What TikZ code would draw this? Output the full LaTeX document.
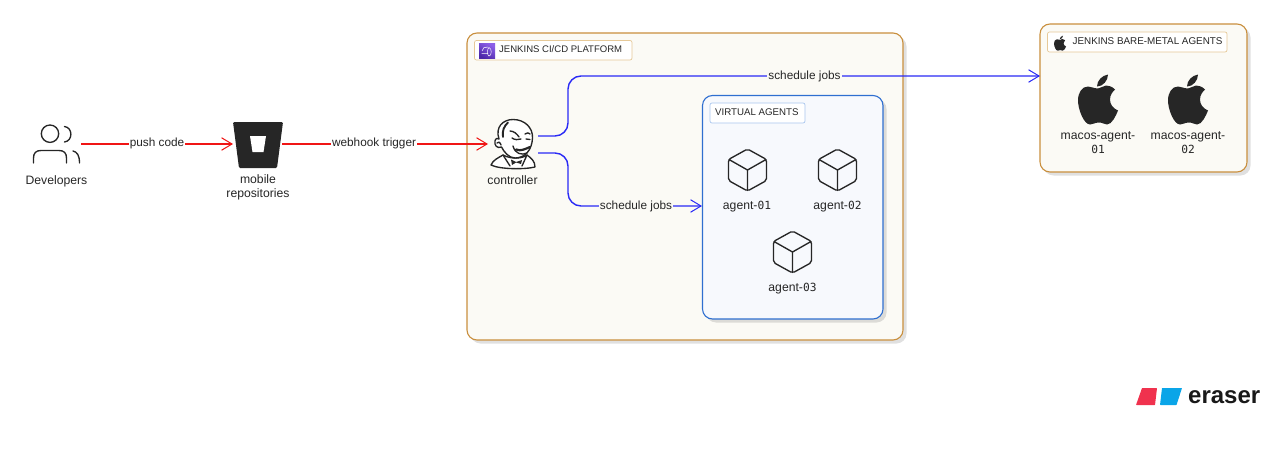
\documentclass[tikz,border=0pt]{standalone}
\usepackage{fontspec}
\setmainfont{Liberation Sans}
\newfontfamily\zerofont{DejaVu Sans Mono}[Scale=0.92]
\usetikzlibrary{arrows.meta,shadows}
\definecolor{tan}{HTML}{C98F3E}
\definecolor{tanlight}{HTML}{E6C998}
\definecolor{cream}{HTML}{FBFAF5}
\definecolor{bluebox}{HTML}{2F6FD0}
\definecolor{bluelight}{HTML}{A9C6EE}
\definecolor{bluefill}{HTML}{F7F9FD}
\definecolor{ink}{HTML}{262626}
\definecolor{flowblue}{HTML}{2A2AF5}
\definecolor{flowred}{HTML}{F01515}
\definecolor{purpledark}{HTML}{4D27A8}
\definecolor{purplelight}{HTML}{8C5FE8}
\definecolor{eraserred}{HTML}{F0324E}
\definecolor{eraserblue}{HTML}{0AA5E8}
\newcommand{\dz}[1]{{\zerofont #1}}
\tikzset{
  x=1pt,y=-1pt,
  groupbox/.style={rounded corners=10pt,line width=1.1pt,
    drop shadow={shadow xshift=3.5pt,shadow yshift=-3.5pt,fill=black,opacity=.12}},
  platform/.style={groupbox,draw=tan,fill=cream},
  virtualbox/.style={groupbox,draw=bluebox,fill=bluefill},
  tagbox/.style={draw=tanlight,fill=white,rounded corners=2pt,line width=.7pt},
  tagblue/.style={draw=bluelight,fill=white,rounded corners=2pt,line width=.7pt},
  tagtext/.style={font=\fontsize{9.7}{11}\selectfont,text=ink,inner sep=0pt,anchor=west},
  caption/.style={font=\fontsize{12.2}{14.5}\selectfont,text=ink,inner sep=0pt,align=center},
  anchorbox/.style={inner sep=0pt,minimum width=#1,minimum height=#1},
  flowr/.style={draw=flowred,line width=1.1pt,-{Straight Barb[length=10.5pt,width=12.5pt,line width=1pt]}},
  flowb/.style={draw=flowblue,line width=1.4pt,rounded corners=13pt,-{Straight Barb[length=10.5pt,width=12.5pt,line width=1pt]}},
  flowlabel/.style={font=\fontsize{11.8}{14}\selectfont,text=ink,fill=white,inner sep=1pt},
  flowlabelc/.style={flowlabel,fill=cream},
  iconline/.style={draw=ink,line width=1.35pt,line join=round,line cap=round},
}
\newcommand{\applelogo}[3]{%
\begin{scope}[shift={(#1,#2)},scale=#3]
\fill[ink] (0,-11) .. controls (-4,-11) and (-7,-13) .. (-10,-13)
 .. controls (-16,-13) and (-20,-7) .. (-20,1)
 .. controls (-20,10) and (-14,25) .. (-8,25)
 .. controls (-5,25) and (-3,23) .. (1,23)
 .. controls (5,23) and (6,25) .. (9,25)
 .. controls (14,25) and (18,16) .. (20,11)
 .. controls (15,9) and (12,5) .. (12,0)
 .. controls (12,-5) and (15,-8) .. (17,-10)
 .. controls (14,-13) and (11,-14) .. (8,-14)
 .. controls (5,-14) and (3,-11) .. (0,-11) -- cycle;
\fill[ink] (-1,-13) .. controls (-1,-19) and (4,-24) .. (10,-25)
 .. controls (10,-19) and (5,-13) .. (-1,-13) -- cycle;
\end{scope}}
\newcommand{\cubeicon}[2]{%
\begin{scope}[shift={(#1,#2)}]
\draw[iconline,rounded corners=2pt] (0,-21) -- (19,-10.5) -- (19,10.5) -- (0,21) -- (-19,10.5) -- (-19,-10.5) -- cycle;
\draw[iconline] (-18.5,-10.5) -- (0,0) -- (18.5,-10.5) (0,0) -- (0,20.5);
\end{scope}}
\begin{document}
\begin{tikzpicture}
\useasboundingbox (0,0) rectangle (1271,460);
% containers
\path[platform] (467,33) rectangle (903,340);
\path[virtualbox] (702.5,95.5) rectangle (883,319);
\path[platform] (1040,24) rectangle (1247,172);
% tags
\path[tagbox] (474.5,40.5) rectangle (632,60);
\shade[bottom color=purpledark,top color=purplelight,shading angle=-30] (479,43.5) rectangle (495,58.5);
\draw[white,line width=.5pt] (482,51) .. controls (482,48) and (485,46.5) .. (488,47) (481.5,53.5) -- (488,53.5) (489,47.5) .. controls (492,48) and (492,56) .. (489,56) .. controls (487,56) and (487,48) .. (489,47.5);
\node[tagtext,font=\fontsize{9.55}{11}\selectfont] (platformtag) at (499,49.5) {JENKINS CI/CD PLATFORM};
\path[tagblue] (710,103) rectangle (805,123);
\node[tagtext] (virtualtag) at (715,112.5) {VIRTUAL AGENTS};
\path[tagbox] (1047.5,32) rectangle (1227,52);
\applelogo{1060}{43.2}{.3}
\node[tagtext,font=\fontsize{9.85}{11}\selectfont] (baretag) at (1072.5,41.5) {JENKINS BARE-METAL AGENTS};
% developers icon
\node[anchorbox=40pt] (dev) at (56,144) {};
\draw[iconline] (50,133.7) circle (8.7);
\draw[iconline] (64.5,126.5) .. controls (73,127.5) and (73,141) .. (64.5,142);
\draw[iconline] (33.5,163) -- (33.5,158) .. controls (33.5,153) and (36,150.5) .. (41,150.5) -- (59,150.5) .. controls (64,150.5) and (66.5,153) .. (66.5,158) -- (66.5,163);
\draw[iconline] (73,151) .. controls (77,152) and (79.5,155) .. (79.5,163);
\node[caption] (devtxt) at (56.5,181) {Developers};
% bitbucket
\node[anchorbox=46pt] (repo) at (258,145) {};
\fill[ink,rounded corners=1.2pt] (233,122) -- (283,122) -- (277,168) -- (239,168) -- cycle;
\fill[white] (250,136) -- (266,136) -- (263.5,152) -- (252.5,152) -- cycle;
\node[caption] (repotxt) at (258,187.5) {mobile\\repositories};
% jenkins
\node[anchorbox=46pt] (ctrl) at (512,144) {};
\begin{scope}[line width=1.35pt,line join=round,line cap=round]
\filldraw[draw=ink,fill=white] (491,165) .. controls (493,160) and (498,158) .. (503,155) .. controls (512,160) and (524,158) .. (527,155) .. controls (531,158) and (535,161) .. (535,167) .. controls (525,169.5) and (500,169.5) .. (491,165) -- cycle;
\filldraw[draw=ink,fill=white] (499,139) .. controls (495,127) and (503,119.5) .. (513,119.5) .. controls (525,119.5) and (533,128) .. (532.5,138) .. controls (532,150) and (525,158) .. (515,158) .. controls (509,158) and (504,152) .. (501.5,147) .. controls (497,149) and (494,145) .. (495,141) .. controls (495.5,138) and (498,138) .. (499,139) -- cycle;
\draw[ink,line width=1.9pt] (503,137) .. controls (502,131) and (504,126) .. (508,122.5);
\draw[ink] (510,131) .. controls (514,131) and (517,134) .. (519,137);
\draw[ink] (525,134) .. controls (527,132.5) and (529,132.5) .. (530,134);
\draw[ink] (512,138) .. controls (515,140) and (518,140) .. (521,139);
\draw[ink] (526,139) -- (530,139.5);
\draw[ink,line width=2.2pt] (516,149.5) .. controls (521,151.5) and (525,149) .. (530,147);
\draw[ink] (513,146) .. controls (515,154) and (522,155.5) .. (527,153);
\draw[ink] (497,143) .. controls (498,141) and (500,142) .. (501,145);
\draw[ink] (503,155) -- (510,166) (527,155) -- (522,166);
\fill[ink] (511,159.5) -- (516,162) -- (522,160) -- (521,164) -- (516,162.5) -- (512,165) -- cycle;
\end{scope}
\node[caption] (ctrltxt) at (512.5,180.5) {controller};
% cubes
\node[anchorbox=42pt] (a1) at (747,170) {};
\node[anchorbox=42pt] (a2) at (837.5,170) {};
\node[anchorbox=42pt] (a3) at (792.5,252) {};
\cubeicon{747.5}{170}
\cubeicon{837.5}{170}
\cubeicon{792.5}{252}
\node[caption] (a1t) at (747,207) {agent-\dz{01}};
\node[caption] (a2t) at (837.5,207) {agent-\dz{02}};
\node[caption] (a3t) at (792.5,289) {agent-\dz{03}};
% mac
\node[anchorbox=46pt] (m1) at (1098,99) {};
\node[anchorbox=46pt] (m2) at (1188,99) {};
\applelogo{1098}{99.5}{1}
\applelogo{1188}{99.5}{1}
\node[caption] (m1t) at (1098,142.5) {macos-agent-\\\dz{01}};
\node[caption] (m2t) at (1188,142.5) {macos-agent-\\\dz{02}};
% connectors
\coordinate (devout) at (81,144);
\coordinate (repoin) at (233,144);
\coordinate (repoout) at (282,144);
\coordinate (ctrlin) at (488,144);
\coordinate (ctrlup) at (538,136);
\coordinate (ctrldown) at (538,153);
\coordinate (vin) at (702,206);
\coordinate (barein) at (1040,76);
\draw[flowr] (devout) -- node[flowlabel,pos=.5,yshift=.8pt] (l1) {push code} (repoin);
\draw[flowr] (repoout) -- node[flowlabel,pos=.447,yshift=.8pt] (l2) {webhook trigger} (ctrlin);
\draw[flowb] (ctrlup) -- (568,136) -- (568,76) -- (barein);
\node[flowlabelc] (l3) at (804.5,76) {schedule jobs};
\draw[flowb] (ctrldown) -- (568,153) -- (568,206) -- (vin);
\node[flowlabelc] (l4) at (636,206) {schedule jobs};
% eraser logo
\fill[eraserred,rounded corners=.5pt] (1142,388) -- (1157,388) -- (1155,405) -- (1136,405) -- cycle;
\fill[eraserblue,rounded corners=.5pt] (1162,388) -- (1182,388) -- (1176.5,405) -- (1160,405) -- cycle;
\node[inner sep=0pt,anchor=west,font=\fontsize{24}{26}\selectfont,text=black!90] (eraser) at (1188,397) {\textbf{eraser}};
\end{tikzpicture}
\end{document}
